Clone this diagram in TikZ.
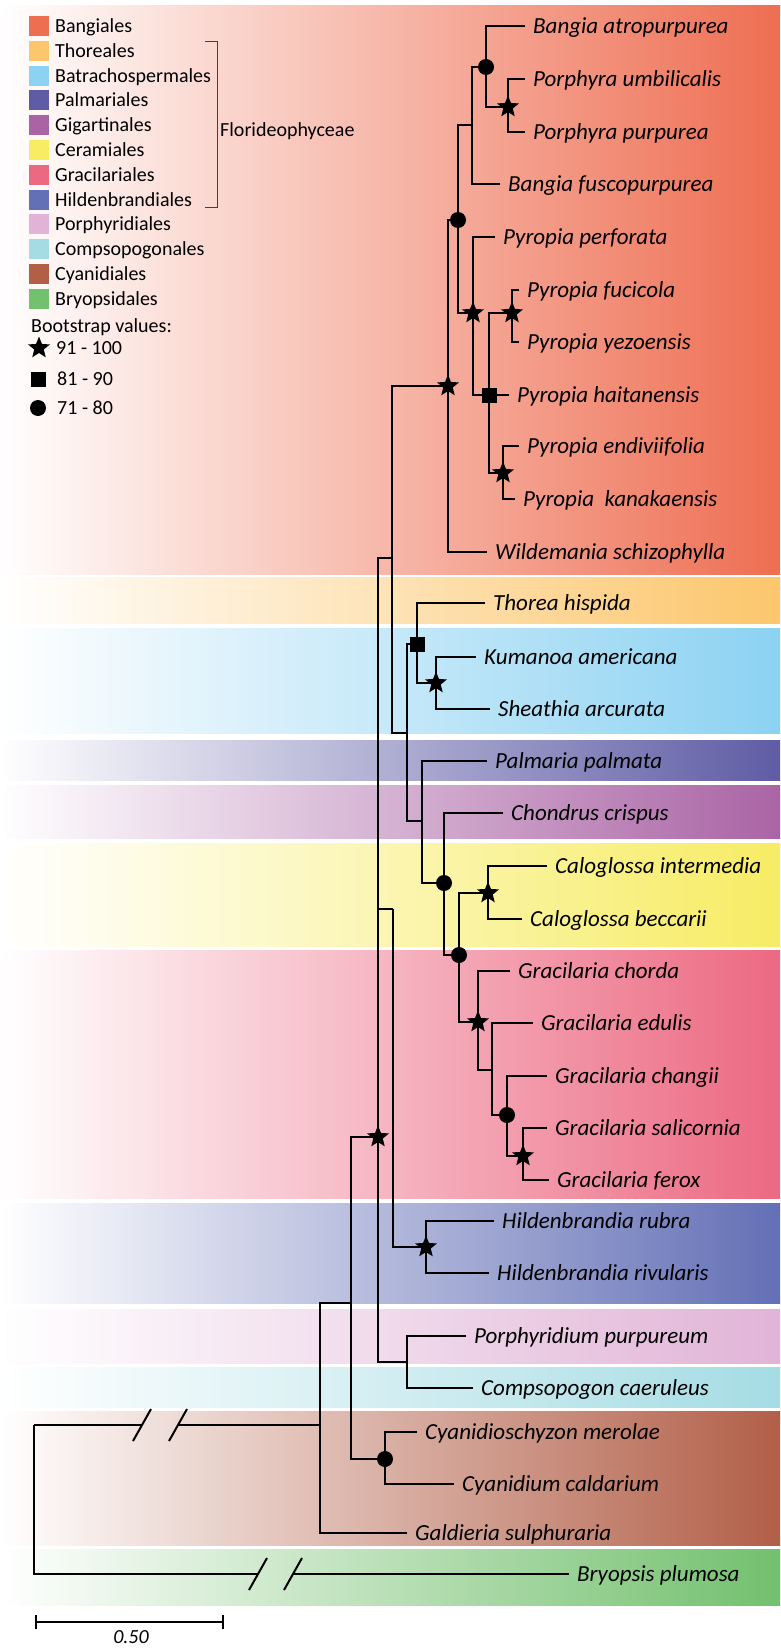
\documentclass[tikz,border=0pt]{standalone}
\usepackage{fontspec}
\setmainfont{Carlito}
\usepackage{tikz}
\usetikzlibrary{shapes.geometric,positioning}

\definecolor{cBang}{RGB}{238,110,82}
\definecolor{cThor}{RGB}{252,198,108}
\definecolor{cBatr}{RGB}{140,210,242}
\definecolor{cPalm}{RGB}{95,92,165}
\definecolor{cGig}{RGB}{170,100,165}
\definecolor{cCer}{RGB}{247,236,100}
\definecolor{cGrac}{RGB}{236,105,130}
\definecolor{cHild}{RGB}{100,112,182}
\definecolor{cPorph}{RGB}{225,180,215}
\definecolor{cComp}{RGB}{165,220,228}
\definecolor{cCyan}{RGB}{178,95,72}
\definecolor{cBryo}{RGB}{115,192,110}

\begin{document}
\begin{tikzpicture}[x=1pt,y=-1pt,
	branch/.style={line width=2pt},
	taxon/.style={anchor=west,inner xsep=8pt,inner ysep=0pt,text height=19.8pt,text depth=5pt,font=\fontsize{23}{25}\selectfont\itshape},
	legtext/.style={anchor=west,inner sep=0pt,text height=17pt,text depth=4pt,font=\fontsize{20}{22}\selectfont},
	bsstar/.style={star,star points=5,star point ratio=2.3,fill=black,inner sep=0pt,minimum size=23pt},
	bssquare/.style={rectangle,fill=black,inner sep=0pt,minimum size=15pt},
	bscircle/.style={circle,fill=black,inner sep=0pt,minimum size=16pt}]
			\useasboundingbox (0,0) rectangle (780,1648);
			% order bands
			\foreach \ya/\yb/\col in {6/574/cBang,577/623/cThor,628/733/cBatr,740/780/cPalm,785/838/cGig,843/946/cCer,950/1198/cGrac,1203/1303/cHild,1309/1363/cPorph,1367/1407/cComp,1411/1545/cCyan,1549/1605/cBryo} {
				\shade[left color=white,right color=\col] (0,\ya) rectangle (780,\yb);
			}
			% legend
			\foreach \nm/\col [count=\i from 0] in {Bangiales/cBang,Thoreales/cThor,Batrachospermales/cBatr,Palmariales/cPalm,Gigartinales/cGig,Ceramiales/cCer,Gracilariales/cGrac,Hildenbrandiales/cHild,Porphyridiales/cPorph,Compsopogonales/cComp,Cyanidiales/cCyan,Bryopsidales/cBryo} {
				\fill[\col] (29,{16+24.8*\i}) rectangle (49,{36+24.8*\i});
				\node[legtext] (leg\i) at (55,{26+24.8*\i}) {\nm};
			}
			\draw[line width=1pt,black!75] (205,42) -- (217,42) -- (217,207) -- (205,207);
			\node[legtext] (florid) at (220,130) {Florideophyceae};
			\node[legtext] (bsval) at (31,326) {Bootstrap values:};
			\node[bsstar] (lstar) at (39,348) {};
			\node[legtext] (lstart) at (56,348) {91 - 100};
			\node[bssquare] (lsq) at (38,379) {};
			\node[legtext] (lsqt) at (57,379) {81 - 90};
			\node[bscircle] (lcirc) at (38,408) {};
			\node[legtext] (lcirct) at (57,408) {71 - 80};
			% internal nodes
			\coordinate (root) at (34,1425);
			\coordinate (cutA1) at (142,1425);
			\coordinate (cutA2) at (178,1425);
			\coordinate (cutB1) at (258,1574);
			\coordinate (cutB2) at (293,1574);
			\coordinate (n1) at (320,1425);
			\coordinate (ncyanb) at (351,1303);
			\coordinate (ncyan) at (385,1459);
			\coordinate (nrhodo) at (378,1137);
			\coordinate (nbf) at (392,558);
			\coordinate (nflor) at (407,733);
			\coordinate (nthor) at (417,644);
			\coordinate (nbatr) at (436,683);
			\coordinate (npalm) at (422,821);
			\coordinate (ngig) at (444,883);
			\coordinate (ncer) at (459,955);
			\coordinate (ncalo) at (488,893);
			\coordinate (ngrac) at (478,1022);
			\coordinate (ngrac2) at (492,1070);
			\coordinate (ngrac3) at (507,1115);
			\coordinate (ngrac4) at (523,1156);
			\coordinate (nhstem) at (393,909);
			\coordinate (nhild) at (426,1247);
			\coordinate (nporph) at (407,1362);
			\coordinate (nbang) at (448,386);
			\coordinate (nbang2) at (458,220);
			\coordinate (nbang3) at (472,125);
			\coordinate (nbang4) at (486,67);
			\coordinate (nporphyra) at (508,107);
			\coordinate (npyr) at (473,313);
			\coordinate (npyr2) at (489,395);
			\coordinate (npyr3) at (512,313);
			\coordinate (npyr4) at (503,473);
			% taxa
			\node[taxon] (batr) at (525,26) {Bangia atropurpurea};
			\node[taxon] (pumb) at (525,79) {Porphyra umbilicalis};
			\node[taxon] (ppur) at (525,132) {Porphyra purpurea};
			\node[taxon] (bfus) at (500,184) {Bangia fuscopurpurea};
			\node[taxon] (pperf) at (495,237) {Pyropia perforata};
			\node[taxon] (pfuc) at (519,290) {Pyropia fucicola};
			\node[taxon] (pyez) at (519,342) {Pyropia yezoensis};
			\node[taxon] (phait) at (509,395) {Pyropia haitanensis};
			\node[taxon] (pend) at (519,446) {Pyropia endiviifolia};
			\node[taxon] (pkan) at (515,499) {Pyropia\ \ kanakaensis};
			\node[taxon] (wild) at (487,552) {Wildemania schizophylla};
			\node[taxon] (thor) at (485,603) {Thorea hispida};
			\node[taxon] (kuma) at (476,657) {Kumanoa americana};
			\node[taxon] (shea) at (490,709) {Sheathia arcurata};
			\node[taxon] (palm) at (487,761) {Palmaria palmata};
			\node[taxon] (chon) at (503,813) {Chondrus crispus};
			\node[taxon] (cint) at (547,866) {Caloglossa intermedia};
			\node[taxon] (cbec) at (522,919) {Caloglossa beccarii};
			\node[taxon] (gcho) at (510,971) {Gracilaria chorda};
			\node[taxon] (gedu) at (533,1023) {Gracilaria edulis};
			\node[taxon] (gcha) at (547,1076) {Gracilaria changii};
			\node[taxon] (gsal) at (547,1128) {Gracilaria salicornia};
			\node[taxon] (gfer) at (549,1180) {Gracilaria ferox};
			\node[taxon] (hrub) at (494,1221) {Hildenbrandia rubra};
			\node[taxon] (hriv) at (489,1273) {Hildenbrandia rivularis};
			\node[taxon] (porp) at (466,1336) {Porphyridium purpureum};
			\node[taxon] (comp) at (473,1388) {Compsopogon caeruleus};
			\node[taxon] (cyme) at (417,1432) {Cyanidioschyzon merolae};
			\node[taxon] (cyca) at (454,1484) {Cyanidium caldarium};
			\node[taxon] (gald) at (407,1533) {Galdieria sulphuraria};
			\node[taxon] (bryo) at (569,1574) {Bryopsis plumosa};
			% branches
			\draw[branch] (root) |- (cutA1);
			\draw[branch] (cutA2) -- (n1);
			\draw[branch] (root) |- (cutB1);
			\draw[branch] (cutB2) -- (bryo);
			\foreach \c in {cutA1,cutA2,cutB1,cutB2} {
				\draw[branch] ([shift={(-9,16)}]\c) -- ([shift={(9,-16)}]\c);
			}
			\draw[branch] (n1) |- (ncyanb);
			\draw[branch] (n1) |- (gald);
			\draw[branch] (ncyanb) |- (nrhodo);
			\draw[branch] (ncyanb) |- (ncyan);
			\draw[branch] (ncyan) |- (cyme);
			\draw[branch] (ncyan) |- (cyca);
			\draw[branch] (nrhodo) |- (nbf);
			\draw[branch] (nrhodo) |- (nhstem);
			\draw[branch] (nrhodo) |- (nporph);
			\draw[branch] (nhstem) |- (nhild);
			\draw[branch] (nhild) |- (hrub);
			\draw[branch] (nhild) |- (hriv);
			\draw[branch] (nporph) |- (porp);
			\draw[branch] (nporph) |- (comp);
			\draw[branch] (nbf) |- (nbang);
			\draw[branch] (nbf) |- (nflor);
			\draw[branch] (nbang) |- (nbang2);
			\draw[branch] (nbang) |- (wild);
			\draw[branch] (nbang2) |- (nbang3);
			\draw[branch] (nbang2) |- (npyr);
			\draw[branch] (nbang3) |- (nbang4);
			\draw[branch] (nbang3) |- (bfus);
			\draw[branch] (nbang4) |- (batr);
			\draw[branch] (nbang4) |- (nporphyra);
			\draw[branch] (nporphyra) |- (pumb);
			\draw[branch] (nporphyra) |- (ppur);
			\draw[branch] (npyr) |- (pperf);
			\draw[branch] (npyr) |- (npyr2);
			\draw[branch] (npyr2) |- (npyr3);
			\draw[branch] (npyr2) -- (phait);
			\draw[branch] (npyr2) |- (npyr4);
			\draw[branch] (npyr3) |- (pfuc);
			\draw[branch] (npyr3) |- (pyez);
			\draw[branch] (npyr4) |- (pend);
			\draw[branch] (npyr4) |- (pkan);
			\draw[branch] (nflor) |- (nthor);
			\draw[branch] (nflor) |- (npalm);
			\draw[branch] (nthor) |- (thor);
			\draw[branch] (nthor) |- (nbatr);
			\draw[branch] (nbatr) |- (kuma);
			\draw[branch] (nbatr) |- (shea);
			\draw[branch] (npalm) |- (palm);
			\draw[branch] (npalm) |- (ngig);
			\draw[branch] (ngig) |- (chon);
			\draw[branch] (ngig) |- (ncer);
			\draw[branch] (ncer) |- (ncalo);
			\draw[branch] (ncer) |- (ngrac);
			\draw[branch] (ncalo) |- (cint);
			\draw[branch] (ncalo) |- (cbec);
			\draw[branch] (ngrac) |- (gcho);
			\draw[branch] (ngrac) |- (ngrac2);
			\draw[branch] (ngrac2) |- (gedu);
			\draw[branch] (ngrac2) |- (ngrac3);
			\draw[branch] (ngrac3) |- (gcha);
			\draw[branch] (ngrac3) |- (ngrac4);
			\draw[branch] (ngrac4) |- (gsal);
			\draw[branch] (ngrac4) |- (gfer);
			% bootstrap marks
			\foreach \n in {nporphyra,npyr,npyr3,nbang,npyr4,nbatr,ncalo,ngrac,ngrac4,nrhodo,nhild} {
				\node[bsstar] (s\n) at (\n) {};
			}
			\foreach \n in {npyr2,nthor} {
				\node[bssquare] (q\n) at (\n) {};
			}
			\foreach \n in {nbang4,nbang2,ngig,ncer,ngrac3,ncyan} {
				\node[bscircle] (c\n) at (\n) {};
			}
			% scale bar
			\coordinate (sbl) at (36,1622);
			\coordinate (sbr) at (223,1622);
			\draw[line width=2.6pt] (sbl) -- (sbr);
			\draw[line width=2.6pt] ([yshift=-7pt]sbl) -- ([yshift=7pt]sbl);
			\draw[line width=2.6pt] ([yshift=-7pt]sbr) -- ([yshift=7pt]sbr);
			\node[font=\fontsize{20}{22}\selectfont\itshape,inner sep=0pt] (sblab) at (131,1637) {0.50};
		\end{tikzpicture}
\end{document}
